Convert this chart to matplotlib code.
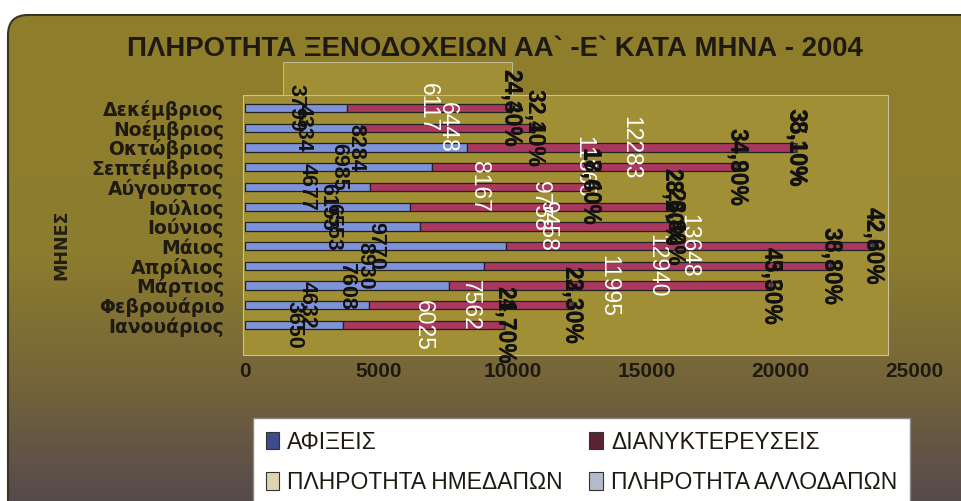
import numpy as np
import matplotlib
matplotlib.use("Agg")
import matplotlib.pyplot as plt
from matplotlib import font_manager
from matplotlib.patches import Rectangle, FancyBboxPatch, Patch
from matplotlib.colors import LinearSegmentedColormap

# ---------------- data ----------------
months = ["Ιανουάριος", "Φεβρουάριο", "Μάρτιος", "Απρίλιος", "Μάιος", "Ιούνιος",
          "Ιούλιος", "Αύγουστος", "Σεπτέμβριος", "Οκτώβριος", "Νοέμβριος", "Δεκέμβριος"]
arrivals = [3650, 4632, 7608, 8930, 9770, 6553, 6153, 4677, 6985, 8284, 4334, 3799]
overnights = [6025, 7562, 11995, 12940, 13648, 9458, 9758, 8167, 11360, 12283, 6448, 6117]
occ_domestic = [21.7, 22.3, 43.5, 36.8, 42.8, 28.4, 28.2, 17.6, 34.8, 35.1, 32.4, 24.3]
occ_foreign = [24.7, 23.3, 45.3, 38.8, 42.6, 28.8, 28.6, 18.4, 34.9, 38.1, 32.1, 24.4]
series_names = ["ΑΦΙΞΕΙΣ", "ΔΙΑΝΥΚΤΕΡΕΥΣΕΙΣ", "ΠΛΗΡΟΤΗΤΑ ΗΜΕΔΑΠΩΝ", "ΠΛΗΡΟΤΗΤΑ ΑΛΛΟΔΑΠΩΝ"]
xticks = [0, 5000, 10000, 15000, 20000, 25000]
title = "ΠΛΗΡΟΤΗΤΑ ΞΕΝΟΔΟΧΕΙΩΝ ΑΑ` -Ε` ΚΑΤΑ ΜΗΝΑ - 2004"
ylabel = "ΜΗΝΕΣ"

# ---------------- fonts ----------------
avail = {f.name for f in font_manager.fontManager.ttflist}
NARROW = "Liberation Sans Narrow" if "Liberation Sans Narrow" in avail else "Liberation Sans"
SANS = "Liberation Sans"

W, H = 961, 501
fig = plt.figure(figsize=(W / 100, H / 100), dpi=100)
fig.patch.set_facecolor("white")

# ---------------- background ----------------
bg = fig.add_axes([0, 0, 1, 1], zorder=-10)
bg.set_xlim(0, W)
bg.set_ylim(H, 0)
bg.axis("off")
cmap = LinearSegmentedColormap.from_list(
    "bg", [(0, "#8f7f2c"), (0.5, "#8c7c2e"), (0.75, "#75653a"), (1, "#564a4c")])
grad = np.linspace(0, 1, 256)[:, None]
im = bg.imshow(grad, extent=[8, W, H, 15], cmap=cmap, aspect="auto")
clip = FancyBboxPatch((8, 15), 1000, 540, boxstyle="round,pad=0,rounding_size=20",
                      transform=bg.transData, facecolor="none", edgecolor="#3a3320", lw=1.5)
bg.add_patch(clip)
im.set_clip_path(clip)
panel_color = "#a08f34"
bg.add_patch(Rectangle((243, 95), 888 - 243, 355 - 95, facecolor=panel_color,
                       edgecolor="#c9c2a2", lw=0.8))
bg.add_patch(Rectangle((283, 62), 512 - 283, 95 - 62, facecolor=panel_color,
                       edgecolor="#c9c2a2", lw=0.6))

# ---------------- main axes ----------------
x0, x1, ytop, ybot = 245, 914, 95, 355
ax = fig.add_axes([x0 / W, 1 - ybot / H, (x1 - x0) / W, (ybot - ytop) / H])
ax.set_facecolor("none")
for s in ax.spines.values():
    s.set_visible(False)

y = np.arange(len(months))
h = 0.42
arr = np.array(arrivals, dtype=float)
ovn = np.array(overnights, dtype=float)
dom = np.array(occ_domestic)
frn = np.array(occ_foreign)

b1 = ax.barh(y, arr, height=h, color="#7d92d8", edgecolor="#222222", lw=0.9, zorder=2)
b2 = ax.barh(y, ovn, left=arr, height=h, color="#a9385e", edgecolor="#222222", lw=0.9, zorder=2)
b3 = ax.barh(y, dom, left=arr + ovn, height=h, color="#e6dba8", edgecolor="#222222", lw=0.5, zorder=2)
b4 = ax.barh(y, frn, left=arr + ovn + dom, height=h, color="#a8b6d8", edgecolor="#222222", lw=0.5, zorder=2)

ax.bar_label(b1, labels=[str(v) for v in arrivals], label_type="center", rotation=-90,
             color="#111111", fontsize=15.5, fontfamily=SANS, fontweight="bold", zorder=5)
ax.bar_label(b2, labels=[str(v) for v in overnights], label_type="center", rotation=-90,
             color="white", fontsize=16.5, fontfamily=SANS, zorder=5)
pct = lambda v: f"{v:.2f}%".replace(".", ",")
ax.bar_label(b3, labels=[pct(v) for v in occ_domestic], label_type="center", rotation=-90,
             color="#111111", fontsize=16.5, fontfamily=SANS, fontweight="bold", zorder=5)
ax.bar_label(b4, labels=[pct(v) for v in occ_foreign], label_type="center", rotation=-90,
             color="#111111", fontsize=16.5, fontfamily=SANS, fontweight="bold", zorder=5)

ax.set_xlim(0, 25000)
ax.set_ylim(-1.52, 11.66)
ax.set_xticks(xticks)
ax.set_xticklabels([str(t) for t in xticks], fontfamily=NARROW, fontweight="bold",
                   fontsize=19 if NARROW != SANS else 15, color="#1e1a12")
ax.set_yticks(y)
ax.set_yticklabels(months, fontfamily="DejaVu Sans", fontweight="bold", fontsize=13.5,
                   color="#1e1a12")
ax.tick_params(axis="both", length=0)
ax.tick_params(axis="x", pad=5)
ax.tick_params(axis="y", pad=15)

# ---------------- title & axis label ----------------
t = fig.text(495 / W, 1 - 49 / H, title, ha="center", va="center", fontfamily=NARROW,
             fontweight="bold", fontsize=20, color="#1e1a12")
fig.canvas.draw()
r = fig.canvas.get_renderer()
bw = t.get_window_extent(r).width
t.set_fontsize(20 * 734 / bw)

fig.text(61 / W, 1 - 245 / H, ylabel, rotation=90, ha="center", va="center",
         fontfamily="DejaVu Sans", fontweight="bold", fontsize=12.5, color="#221d12")

# ---------------- legend ----------------
leg_colors = ["#3c4c8c", "#5c2232", "#dcd4b4", "#b4bccc"]
order = [0, 2, 1, 3]
handles = [Patch(facecolor=leg_colors[i], edgecolor="#333333", lw=0.8) for i in order]
labels = [series_names[i] for i in order]
leg = fig.legend(handles, labels, ncol=2, loc="upper left", mode="expand",
                 bbox_to_anchor=(253 / W, 0, (910 - 253) / W, (501 - 418) / H),
                 prop={"family": SANS, "size": 16.5}, frameon=True, fancybox=False,
                 framealpha=1, facecolor="white", edgecolor="#888888",
                 handlelength=0.6, handleheight=0.8, handletextpad=0.35,
                 labelspacing=0.75, borderpad=0.55, borderaxespad=0)
for txt in leg.get_texts():
    txt.set_color("#1e1a12")

fig.savefig("out.png", dpi=100, facecolor="white")
